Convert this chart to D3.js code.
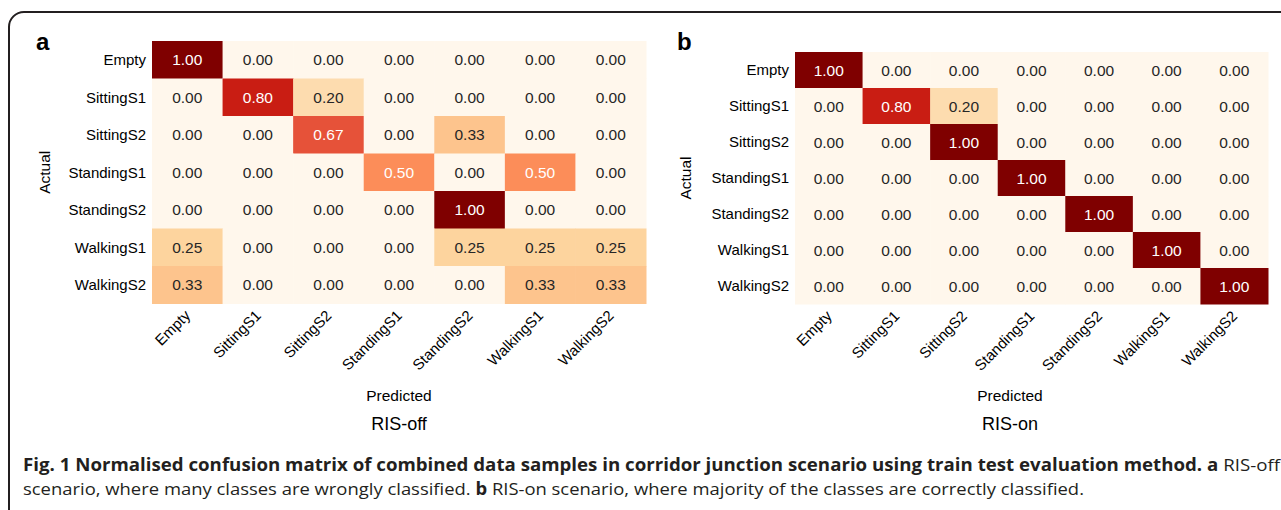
<!DOCTYPE html>
<html>
<head>
<meta charset="utf-8">
<script src="https://cdn.jsdelivr.net/npm/d3@7"></script>
<style>
  html, body { margin: 0; padding: 0; background: #fff; }
  svg { display: block; }
  .tick text { font-family: "Liberation Sans", Arial, sans-serif; }
</style>
</head>
<body>
<div id="chart"></div>
<script>
// class names, shared by both matrices
const classes = ["Empty", "SittingS1", "SittingS2", "StandingS1", "StandingS2", "WalkingS1", "WalkingS2"];

// RIS-off normalised confusion matrix (rows = actual, cols = predicted)
const risOff = [
  [1.00, 0.00, 0.00, 0.00, 0.00, 0.00, 0.00],
  [0.00, 0.80, 0.20, 0.00, 0.00, 0.00, 0.00],
  [0.00, 0.00, 0.67, 0.00, 0.33, 0.00, 0.00],
  [0.00, 0.00, 0.00, 0.50, 0.00, 0.50, 0.00],
  [0.00, 0.00, 0.00, 0.00, 1.00, 0.00, 0.00],
  [0.25, 0.00, 0.00, 0.00, 0.25, 0.25, 0.25],
  [0.33, 0.00, 0.00, 0.00, 0.00, 0.33, 0.33]
];

// RIS-on normalised confusion matrix
const risOn = [
  [1.00, 0.00, 0.00, 0.00, 0.00, 0.00, 0.00],
  [0.00, 0.80, 0.20, 0.00, 0.00, 0.00, 0.00],
  [0.00, 0.00, 1.00, 0.00, 0.00, 0.00, 0.00],
  [0.00, 0.00, 0.00, 1.00, 0.00, 0.00, 0.00],
  [0.00, 0.00, 0.00, 0.00, 1.00, 0.00, 0.00],
  [0.00, 0.00, 0.00, 0.00, 0.00, 1.00, 0.00],
  [0.00, 0.00, 0.00, 0.00, 0.00, 0.00, 1.00]
];

const panelLetters = ["a", "b"];
const panelTitles = ["RIS-off", "RIS-on"];
const xTitle = "Predicted";
const yTitle = "Actual";

const W = 1281, H = 510;
const FONT = '"Liberation Sans", Arial, Helvetica, sans-serif';

const svg = d3.select("#chart").append("svg")
  .attr("width", W)
  .attr("height", H);

// rounded frame (runs past the right and bottom edges)
svg.append("rect")
  .attr("x", 9).attr("y", 12)
  .attr("width", 1320).attr("height", 540)
  .attr("rx", 15)
  .attr("fill", "none")
  .attr("stroke", "#231f20")
  .attr("stroke-width", 2);

// OrRd, linear between the 9 brewer stops (same as matplotlib)
const color = d3.scaleLinear()
  .domain(d3.range(9).map(i => i / 8))
  .range(d3.schemeOrRd[9])
  .clamp(true);

const textColor = (v) => {
  const c = d3.rgb(color(v));
  const lin = (u) => { u /= 255; return u <= 0.03928 ? u / 12.92 : Math.pow((u + 0.055) / 1.055, 2.4); };
  const lum = 0.2126 * lin(c.r) + 0.7152 * lin(c.g) + 0.0722 * lin(c.b);
  return lum > 0.408 ? "#262626" : "#ffffff";
};

const panels = [
  { data: risOff, x0: 152, x1: 646, y0: 41, y1: 303.5, letterX: 36, actualX: 45, labelX: 399 },
  { data: risOn,  x0: 795, x1: 1268, y0: 52, y1: 304, letterX: 677, actualX: 686, labelX: 1010 }
];

panels.forEach((p, pi) => {
  const g = svg.append("g");

  const x = d3.scaleBand().domain(classes).range([p.x0, p.x1]);
  const y = d3.scaleBand().domain(classes).range([p.y0, p.y1]);

  const cells = [];
  p.data.forEach((row, r) => row.forEach((v, c) => cells.push({ actual: classes[r], pred: classes[c], v })));

  g.selectAll("rect.cell")
    .data(cells)
    .join("rect")
    .attr("class", "cell")
    .attr("x", d => x(d.pred))
    .attr("y", d => y(d.actual))
    .attr("width", x.bandwidth() + 0.5)
    .attr("height", y.bandwidth() + 0.5)
    .attr("fill", d => color(d.v));

  g.selectAll("text.val")
    .data(cells)
    .join("text")
    .attr("class", "val")
    .attr("x", d => x(d.pred) + x.bandwidth() / 2)
    .attr("y", d => y(d.actual) + y.bandwidth() / 2)
    .attr("dy", "0.36em")
    .attr("text-anchor", "middle")
    .attr("font-family", FONT)
    .attr("font-size", "15.5px")
    .attr("fill", d => textColor(d.v))
    .text(d => d.v.toFixed(2));

  // row labels
  const yAxis = g.append("g")
    .attr("transform", `translate(${p.x0},0)`)
    .call(d3.axisLeft(y).tickSize(0).tickPadding(6));
  yAxis.select(".domain").remove();
  yAxis.selectAll("text").attr("font-size", "15px").attr("fill", "#000").attr("dy", "0.36em");

  // column labels, rotated
  const xAxis = g.append("g")
    .attr("transform", `translate(0,${p.y1})`)
    .call(d3.axisBottom(x).tickSize(0));
  xAxis.select(".domain").remove();
  xAxis.selectAll("text")
    .attr("font-size", "15px")
    .attr("fill", "#000")
    .attr("text-anchor", "end")
    .attr("dy", null)
    .attr("y", 0)
    .attr("transform", "translate(4,13) rotate(-45)");

  svg.append("text")
    .attr("x", p.letterX).attr("y", 50)
    .attr("font-family", FONT)
    .attr("font-weight", "bold")
    .attr("font-size", "24px")
    .text(panelLetters[pi]);

  svg.append("text")
    .attr("transform", `translate(${p.actualX + 5},${(p.y0 + p.y1) / 2}) rotate(-90)`)
    .attr("text-anchor", "middle")
    .attr("font-family", FONT)
    .attr("font-size", "15.5px")
    .text(yTitle);

  svg.append("text")
    .attr("x", p.labelX).attr("y", 401)
    .attr("text-anchor", "middle")
    .attr("font-family", FONT)
    .attr("font-size", "15.5px")
    .text(xTitle);

  svg.append("text")
    .attr("x", p.labelX).attr("y", 430)
    .attr("text-anchor", "middle")
    .attr("font-family", FONT)
    .attr("font-size", "18px")
    .text(panelTitles[pi]);
});

// caption
const CAP = '"Open Sans", "Noto Sans", sans-serif';
const line1 = [
  { t: "Fig. 1 Normalised confusion matrix of combined data samples in corridor junction scenario using train test evaluation method. a", b: true },
  { t: " RIS-off", b: false }
];
const line2 = [
  { t: "scenario, where many classes are wrongly classified. ", b: false },
  { t: "b", b: true },
  { t: " RIS-on scenario, where majority of the classes are correctly classified.", b: false }
];

[[line1, 471, 1257], [line2, 495, 1061]].forEach(([parts, yy, len]) => {
  const t = svg.append("text")
    .attr("x", 23).attr("y", yy)
    .attr("font-family", CAP)
    .attr("font-size", "17px")
    .attr("fill", "#231f20")
    .attr("textLength", len)
    .attr("lengthAdjust", "spacingAndGlyphs")
    .attr("xml:space", "preserve");
  parts.forEach(p => t.append("tspan")
    .attr("font-weight", p.b ? "bold" : "normal")
    .text(p.t));
});
</script>
</body>
</html>
